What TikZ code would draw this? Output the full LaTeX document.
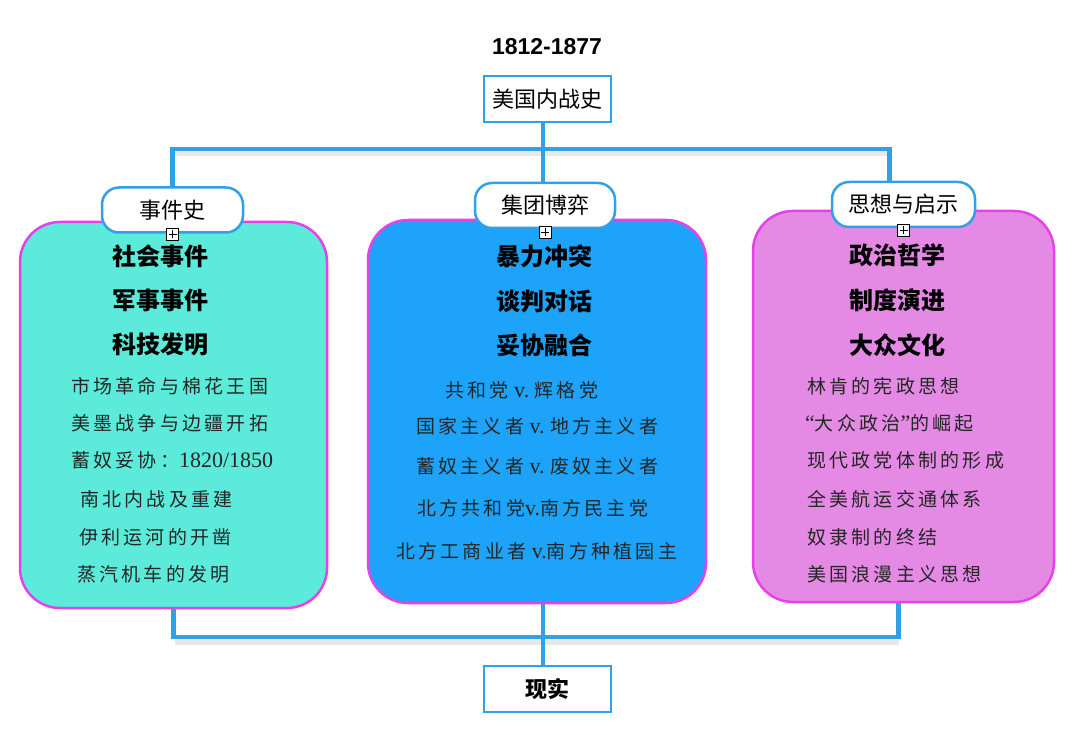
\documentclass[tikz,border=0pt]{standalone}
\usepackage{fontspec}
\setmainfont{Liberation Sans}
\newfontfamily\cjk{Noto Sans CJK SC}
\newfontfamily\latin{Liberation Serif}
\usepackage{tikz}
\definecolor{linkblue}{RGB}{48,160,232}
\definecolor{cardedge}{RGB}{232,64,232}
\definecolor{eventfill}{RGB}{92,235,218}
\definecolor{groupfill}{RGB}{29,163,250}
\definecolor{ideafill}{RGB}{228,138,228}
\newcommand{\lat}[1]{{\latin\fontsize{22}{22}\selectfont #1}}

\tikzset{
  link/.style={draw=linkblue,line width=4.5pt},
  linkshadow/.style={draw=black,opacity=0.09,line width=7pt},
  rootbox/.style={draw=linkblue,line width=2.5pt,fill=white,minimum width=127pt,minimum height=46pt,
    font=\cjk\fontsize{22}{24}\selectfont},
  tab/.style={draw=linkblue,line width=2.5pt,fill=white,rounded corners=17pt,minimum height=45pt,
    font=\cjk\fontsize{22}{24}\selectfont},
  card/.style={draw=cardedge,line width=2.5pt,rounded corners=40pt},
  head/.style={font=\cjk\bfseries\fontsize{24}{28}\selectfont},
  item/.style={anchor=west,text=black!85,inner sep=0pt,
    font=\cjk\fontsize{19}{22}\selectfont\addfontfeature{LetterSpace=17}},
  plusbox/.style={draw,fill=white,line width=0.8pt,minimum size=12pt,inner sep=0pt,
    path picture={\draw[line width=0.7pt]
      ([xshift=2pt]path picture bounding box.west) -- ([xshift=-2pt]path picture bounding box.east)
      ([yshift=-2pt]path picture bounding box.north) -- ([yshift=2pt]path picture bounding box.south);}}
}

\begin{document}
\begin{tikzpicture}[x=1pt,y=-1pt]
  \useasboundingbox (0,0) rectangle (1080,735);
  \node[font=\bfseries\fontsize{23}{26}\selectfont] (years) at (547,47) {1812-1877};
  \node[rootbox] (root) at (547.5,99) {美国内战史};

  \node[card,fill=eventfill,minimum width=307pt,minimum height=386pt] (card1) at (173.5,415) {};
  \node[card,fill=groupfill,minimum width=338pt,minimum height=383pt] (card2) at (537,411.5) {};
  \node[card,fill=ideafill,minimum width=301pt,minimum height=391pt] (card3) at (903.5,406.5) {};

  \node[tab,minimum width=141pt] (tab1) at (172.5,210) {事件史};
  \node[tab,minimum width=140pt] (tab2) at (545,205.5) {集团博弈};
  \node[tab,minimum width=143pt] (tab3) at (903.5,204.5) {思想与启示};
  \node[plusbox] (plus1) at ([yshift=-0.5pt]tab1.south) {};
  \node[plusbox] (plus2) at ([yshift=-3pt]tab2.south) {};
  \node[plusbox] (plus3) at ([yshift=-2pt]tab3.south) {};

  \foreach \t [count=\i] in {社会事件,军事事件,科技发明}
    \node[head] (eventhead\i) at (160,{212+\i*44}) {\t};
  \foreach \t [count=\i] in {暴力冲突,谈判对话,妥协融合}
    \node[head] (grouphead\i) at (544,{212+\i*44.5}) {\t};
  \foreach \t [count=\i] in {政治哲学,制度演进,大众文化}
    \node[head] (ideahead\i) at (897,{210+\i*45}) {\t};

  \node[item] (event1) at (71,386) {市场革命与棉花王国};
  \node[item] (event2) at (71,423) {美墨战争与边疆开拓};
  \node[item] (event3) at (71,460) {蓄奴妥协：\lat{1820/1850}};
  \node[item] (event4) at (80,499) {南北内战及重建};
  \node[item] (event5) at (79,537) {伊利运河的开凿};
  \node[item] (event6) at (77,574) {蒸汽机车的发明};

  \node[item] (group1) at (445,390) {共和党\lat{\ v.\ }辉格党};
  \node[item] (group2) at (416,426) {国家主义者\lat{\ v.\ }地方主义者};
  \node[item] (group3) at (416,466) {蓄奴主义者\lat{\ v.\ }废奴主义者};
  \node[item] (group4) at (417,508) {北方共和党\lat{v.}南方民主党};
  \node[item] (group5) at (396,551) {北方工商业者\lat{\ v.}南方种植园主};

  \node[item] (idea1) at (807,386) {林肯的宪政思想};
  \node[item] (idea2) at (805,423) {\lat{“}大众政治\lat{”}的崛起};
  \node[item] (idea3) at (807,460) {现代政党体制的形成};
  \node[item] (idea4) at (807,499) {全美航运交通体系};
  \node[item] (idea5) at (807,537) {奴隶制的终结};
  \node[item] (idea6) at (807,574) {美国浪漫主义思想};

  \node[rootbox,font=\cjk\bfseries\fontsize{22}{24}\selectfont] (real) at (547.5,689) {现实};

  \coordinate (topbar) at (543,149);
  \coordinate (botbar) at (543,637);
  \draw[linkshadow] ([shift={(1,4)}]tab1.north |- topbar) -- ([shift={(-14,4)}]topbar -| tab3.north);
  \draw[linkshadow] ([shift={(1,4)}]card1.south |- botbar) -- ([shift={(-5,4)}]botbar -| card3.south);
  \draw[link] (root.south -| topbar) -- (tab2.north -| topbar);
  \draw[link] (tab1.north) |- (topbar) -| ([xshift=-14pt]tab3.north);
  \draw[link] (card1.south) |- (botbar) -| ([xshift=-5pt]card3.south);
  \draw[link] (card2.south -| botbar) -- (real.north -| botbar);
\end{tikzpicture}
\end{document}
